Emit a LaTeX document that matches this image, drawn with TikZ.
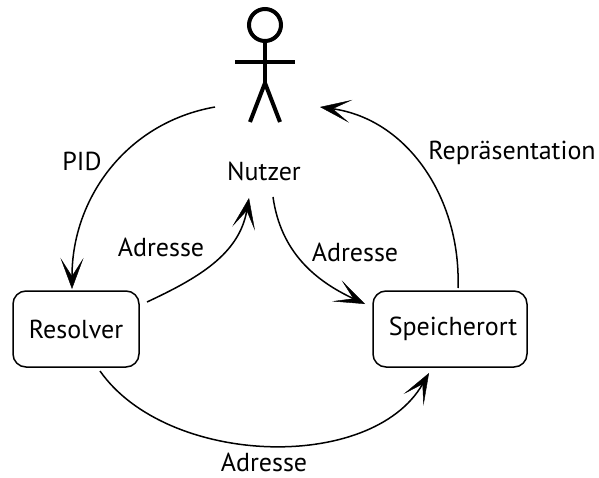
\documentclass[tikz,border=0pt]{standalone}
\usepackage{fontspec}
\setmainfont{PT Sans}
\usetikzlibrary{arrows.meta,positioning}
\tikzset{
  box/.style={draw, line width=1.5pt, rounded corners=13pt, minimum height=76pt, lab},
  lab/.style={font=\fontsize{26pt}{30pt}\selectfont, inner sep=0pt},
  conn/.style={line width=1.5pt, -{Stealth[length=31pt, width=23pt, inset=18pt, line width=0.4pt]}},
  stick/.style={line width=4pt}
}
\begin{document}
\begin{tikzpicture}[x=1pt, y=-1pt]
      \useasboundingbox (0,0) rectangle (599,478);
      \node [box, minimum width=126pt] (resolver) at (76,329) {Resolver};
      \node [box, minimum width=154pt] (speicher) at (450,329) {\hspace{6pt}Speicherort};
      \node [lab] (nutzer) at (264,171) {Nutzer};
      \node [lab] (pid) at (82,161) {PID};
      \node [lab] (rep) at (512,153) {Repräsentation};
      \node [lab] (adr1) at (161,247) {Adresse};
      \node [lab] (adr2) at (355,252) {Adresse};
      \node [lab] (adr3) at (264,462) {Adresse};

      % stick figure
      \coordinate (head) at (265,25);
      \coordinate (neck) at (265,43);
      \coordinate (hip) at (265,83);
      \coordinate (armL) at (235,62);
      \coordinate (armR) at (295,62);
      \coordinate (footL) at (250,122);
      \coordinate (footR) at (280,122);
      \draw [stick] (head) circle (16);
      \draw [stick] (neck) -- (hip);
      \draw [stick] (armL) -- (armR);
      \draw [stick] (footL) -- (hip) -- (footR);

      \coordinate (a) at (215,107);
      \coordinate (b) at (72,289);
      \coordinate (c) at (147,302);
      \coordinate (d) at (249,198);
      \coordinate (e) at (273,197);
      \coordinate (f) at (365,304);
      \coordinate (g) at (458,288);
      \coordinate (h) at (320,107);
      \coordinate (i) at (100,371);
      \coordinate (j) at (429,373);
      \draw [conn] (a) to [out=190, in=90] (b);
      \draw [conn] (c) to [out=25, in=-100] (d);
      \draw [conn] (e) to [out=-82, in=155] (f);
      \draw [conn] (g) to [out=88, in=-8] (h);
      \draw [conn] (i) to [out=-55, in=-120, looseness=0.9] (j);
    \end{tikzpicture}
\end{document}
